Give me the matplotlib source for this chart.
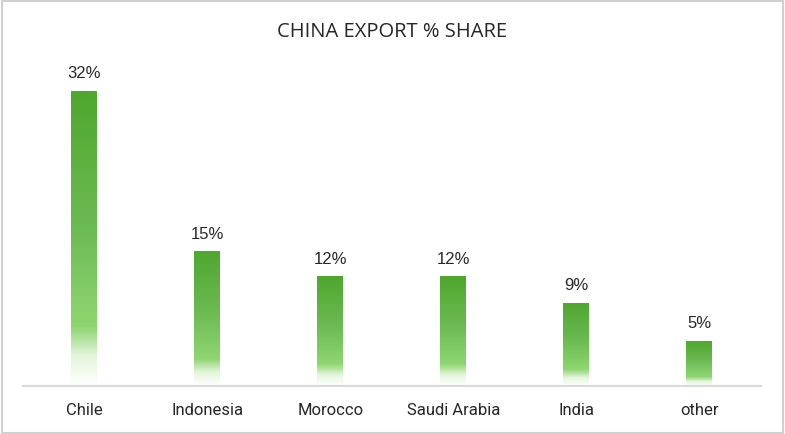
import numpy as np
import matplotlib
matplotlib.use('Agg')
from matplotlib import pyplot as plt
from matplotlib.colors import LinearSegmentedColormap

countries = ['Chile', 'Indonesia', 'Morocco', 'Saudi Arabia', 'India', 'other']
share = [32, 14.6, 11.9, 11.9, 9, 4.9]
labels = ['32%', '15%', '12%', '12%', '9%', '5%']

# green gradient, white at the bottom of each bar
cmap = LinearSegmentedColormap.from_list('grn', [
	(0.0, '#ffffff'), (0.1, '#e4f5dc'), (0.2, '#8fd671'),
	(0.55, '#6cba52'), (1.0, '#4ea72e')])

fig = plt.figure(figsize=(7.85, 4.34), dpi=100)
ax = fig.add_axes([0.029, 0.1106, 0.94, 0.722])

x = np.arange(len(countries))
bars = ax.bar(x, share, width=0.21, color='none', edgecolor='none')
grad = np.linspace(0, 1, 256).reshape(-1, 1)
for b in bars:
	x0, y0 = b.get_x(), b.get_y()
	im = ax.imshow(grad, cmap=cmap, origin='lower', aspect='auto',
		extent=[x0, x0 + b.get_width(), y0, y0 + b.get_height()], zorder=2)
	im.set_clip_path(b)

for xi, v, t in zip(x, share, labels):
	ax.annotate(t, (xi, v), xytext=(0, 7), textcoords='offset points',
		ha='center', va='bottom', fontsize=12, color='#262626', family='Liberation Sans')

ax.set_xlim(-0.5, len(countries) - 0.5)
ax.set_ylim(0, 34)
ax.set_xticks(x)
ax.set_xticklabels(countries, fontsize=12, color='#262626', family='Roboto')
ax.tick_params(axis='x', length=0, pad=12)
ax.set_yticks([])
for s in ['top', 'right', 'left']:
	ax.spines[s].set_visible(False)
ax.spines['bottom'].set_color('#d9d9d9')
ax.spines['bottom'].set_linewidth(1.5)

fig.text(0.5, 0.926, 'CHINA EXPORT % SHARE', ha='center', va='center',
	fontsize=14.5, color='#262626', family='Open Sans')

# light frame round the chart
fig.patches.append(plt.Rectangle((0.002, 0.003), 0.996, 0.994, transform=fig.transFigure,
	fill=False, edgecolor='#d0d0d0', linewidth=1.5))

fig.savefig('out.png', dpi=100)
